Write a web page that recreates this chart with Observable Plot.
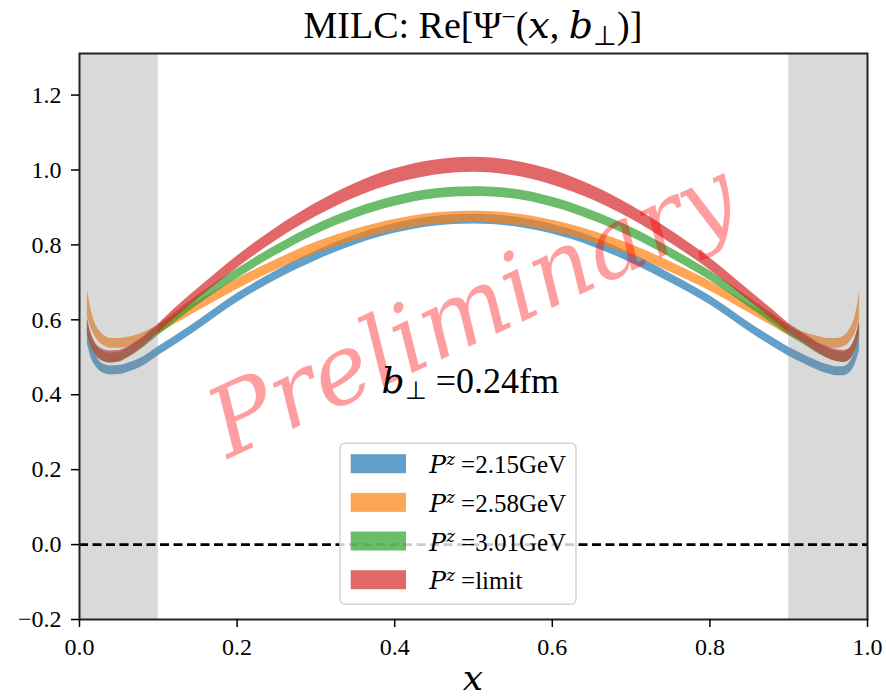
<!DOCTYPE html>
<html><head><meta charset="utf-8">
<script src="https://cdn.jsdelivr.net/npm/d3@7"></script>
<script src="https://cdn.jsdelivr.net/npm/@observablehq/plot@0.6"></script>
<style>
body{margin:0;background:#fff}
#chart{width:886px;height:699px}
</style>
</head><body><div id="chart"></div>
<script>
// ---- data ----
const xs = [0.01,0.015,0.02,0.025,0.03,0.04,0.05,0.06,0.08,0.10,0.12,0.15,0.20,0.25,0.30,0.35,0.40,0.45,0.50,
            0.55,0.60,0.65,0.70,0.75,0.80,0.85,0.88,0.90,0.92,0.94,0.95,0.96,0.97,0.975,0.98,0.985,0.99];
const seriesNames = ["Pz=2.15GeV","Pz=2.58GeV","Pz=3.01GeV","Pz=limit"];
const legendValues = ["2.15GeV","2.58GeV","3.01GeV","limit"];
const blueMid = [.556,.515,.493,.478,.470,.465,.466,.471,.488,.516,.543,.585,.658,.719,.771,.813,.844,.863,.869,
                 .862,.842,.809,.765,.711,.652,.580,.540,.515,.494,.475,.468,.463,.463,.468,.480,.503,.540];
const blueErr = [.020,.018,.015,.013,.012,.012,.012,.012,.012,.012,.012,.012,.012,.012,.013,.013,.013,.013,.013,
                 .013,.013,.013,.013,.012,.012,.012,.012,.012,.012,.012,.012,.012,.012,.013,.015,.018,.020];
const orangeMid = [.645,.600,.572,.556,.546,.537,.537,.540,.552,.574,.599,.636,.695,.747,.792,.827,.853,.870,.875,
                   .869,.851,.823,.787,.741,.690,.630,.594,.570,.553,.541,.537,.537,.543,.551,.566,.592,.640];
const orangeErr = [.035,.024,.018,.016,.014,.013,.013,.013,.013,.012,.012,.013,.014,.014,.015,.015,.015,.015,.015,
                   .015,.015,.015,.014,.014,.013,.012,.012,.012,.013,.013,.013,.013,.014,.016,.018,.024,.035];
const greenMid = [.578,.542,.522,.510,.503,.498,.500,.510,.537,.571,.604,.652,.723,.786,.841,.884,.916,.936,.942,
                  .936,.914,.879,.834,.779,.718,.646,.602,.572,.546,.520,.510,.503,.500,.505,.515,.538,.575];
const greenErr = [.018,.016,.014,.013,.013,.013,.013,.013,.013,.013,.013,.013,.013,.013,.013,.013,.013,.013,.013,
                  .013,.013,.013,.013,.013,.013,.013,.013,.013,.013,.013,.013,.013,.013,.014,.016,.018,.018];
const redMid = [.586,.545,.523,.511,.505,.501,.503,.512,.540,.576,.615,.669,.754,.829,.893,.945,.983,1.006,1.014,
                1.005,.980,.940,.887,.822,.749,.664,.613,.578,.550,.522,.512,.505,.502,.505,.515,.538,.580];
const redErr = [.020,.017,.016,.016,.016,.016,.015,.014,.013,.012,.013,.014,.016,.017,.018,.019,.020,.020,.020,
                .020,.020,.019,.018,.017,.016,.014,.013,.012,.013,.014,.015,.016,.016,.016,.016,.017,.020];
const shadeStart = [0.0, 0.9];
const shadeEnd = [0.1, 1.0];
const xTicks = [0, 0.2, 0.4, 0.6, 0.8, 1.0];
const yTicks = [-0.2, 0, 0.2, 0.4, 0.6, 0.8, 1.0, 1.2];
const refLine = [0];
const annotation = {x: 0.384, y: 0.4035, value: "0.24fm"};
const watermark = [{x: 0.516, y: 0.55, text: "Preliminary"}];

// ---- build ----
const colors = ["#1f77b4","#ff7f0e","#2ca02c","#d62728"];
const mids = [blueMid, orangeMid, greenMid, redMid];
const errs = [blueErr, orangeErr, greenErr, redErr];
const rows = [];
seriesNames.forEach((s, k) => xs.forEach((x, i) => rows.push({series: s, x, lo: mids[k][i] - errs[k][i], hi: mids[k][i] + errs[k][i]})));
const spans = shadeStart.map((a, i) => ({x1: a, x2: shadeEnd[i]}));
const fmt = d3.format(".1f");
const FONT = "Liberation Serif";
const FONT_IT = "DejaVu Serif";

const chart = Plot.plot({
  width: 886, height: 699,
  marginLeft: 79, marginRight: 19, marginTop: 53, marginBottom: 80,
  style: {fontFamily: FONT, fontSize: "24px", background: "white", color: "black", overflow: "visible"},
  x: {domain: [0, 1], label: null},
  y: {domain: [-0.2, 1.311], label: null},
  color: {domain: seriesNames, range: colors},
  marks: [
    Plot.areaY(rows, {x: "x", y1: "lo", y2: "hi", z: "series", fill: "series", fillOpacity: 0.7, curve: "monotone-x"}),
    Plot.rect(spans, {x1: "x1", x2: "x2", fill: "#808080", fillOpacity: 0.3, inset: 0}),
    Plot.ruleY(refLine, {stroke: "black", strokeWidth: 2.6, strokeDasharray: "9,4.5"}),
    Plot.frame({stroke: "#222", strokeWidth: 2}),
    Plot.axisX({ticks: xTicks, tickFormat: fmt, tickSize: 8, tickPadding: 10, strokeWidth: 1.5, fontSize: 24, fontFamily: FONT, fontVariant: "normal", label: null}),
    Plot.axisY({ticks: yTicks, tickFormat: fmt, tickSize: 8, tickPadding: 10, strokeWidth: 1.5, fontSize: 24, fontFamily: FONT, fontVariant: "normal", label: null}),
    Plot.text(watermark, {x: "x", y: "y", text: "text", rotate: -25, fontSize: 96, fontStyle: "italic", fontFamily: FONT_IT,
      fill: "#ff0000", fillOpacity: 0.38, textAnchor: "middle", lineAnchor: "bottom"})
  ]
});
document.getElementById("chart").appendChild(chart);

const svg = d3.select(chart);
const sx = chart.scale("x"), sy = chart.scale("y");

function rich(parent, x, y, parts, size, anchor) {
  const t = parent.append("text").attr("x", x).attr("y", y).attr("font-size", size)
    .attr("text-anchor", anchor || "start").attr("fill", "black").attr("font-family", FONT);
  let shift = 0;
  for (const p of parts) {
    let target = 0, fs = size;
    if (p.sup) { target = -0.34 * size; fs = 0.66 * size; }
    if (p.sub) { target = 0.18 * size; fs = 0.7 * size; }
    const ts = t.append("tspan").text(p.t).attr("font-size", fs);
    if (target - shift !== 0) ts.attr("dy", target - shift);
    if (p.i) ts.attr("font-style", "italic").attr("font-family", FONT_IT);
    shift = target;
  }
  return t;
}

// title
rich(svg, sx.apply(0.5), 38, [{t: "MILC: Re[Ψ"}, {t: "−", sup: 1}, {t: "("}, {t: "x", i: 1}, {t: ", "}, {t: "b", i: 1}, {t: "⊥", sub: 1}, {t: ")]"}], 38, "middle");
// x label
rich(svg, sx.apply(0.5), 690, [{t: "x", i: 1}], 36, "middle");
// annotation
rich(svg, sx.apply(annotation.x), sy.apply(annotation.y), [{t: "b", i: 1}, {t: "⊥", sub: 1}, {t: " =" + annotation.value}], 36, "start");

// legend
const lg = svg.append("g");
lg.append("rect").attr("x", 340).attr("y", 443.3).attr("width", 236).attr("height", 161).attr("rx", 5)
  .attr("fill", "white").attr("fill-opacity", 0.8).attr("stroke", "#d3d3d3").attr("stroke-width", 1.5);
legendValues.forEach((v, i) => {
  const cy = 463.7 + i * 38.67;
  lg.append("rect").attr("x", 350.7).attr("y", cy - 9.5).attr("width", 55.3).attr("height", 19)
    .attr("fill", colors[i]).attr("fill-opacity", 0.7);
  rich(lg, 429.3, cy + 9.6, [{t: "P", i: 1}, {t: "z", i: 1, sup: 1}, {t: " =" + v}], 25, "start");
});
</script></body></html>
